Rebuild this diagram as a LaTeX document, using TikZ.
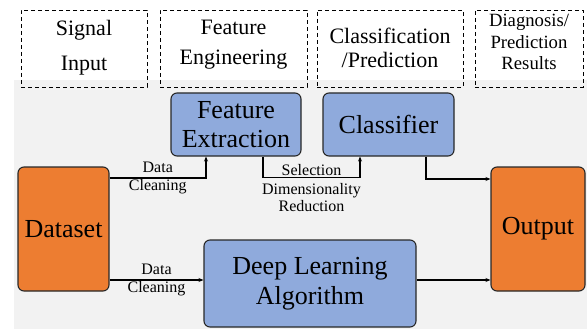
\documentclass[tikz,border=0pt]{standalone}
\usepackage{fontspec}
\setmainfont{Liberation Serif}
\usepackage{tikz}
\usetikzlibrary{positioning, arrows.meta}
\definecolor{myblue}{RGB}{143, 170, 220}
\definecolor{myorange}{RGB}{237, 125, 49}
\definecolor{mygray}{RGB}{242, 242, 242}
\definecolor{myborder}{RGB}{40, 40, 40}

\begin{document}
\begin{tikzpicture}[x=1pt, y=-1pt,
    % --- Stili per i riquadri e le frecce ---
    hdr/.style={draw=black, line width=0.9pt, dash pattern=on 4pt off 3pt, minimum width=126pt, minimum height=77pt, inner sep=0},
    hdr_text/.style={align=center, inner sep=0, font=\fontsize{22}{35}\selectfont},
    box/.style={draw=myborder, line width=1.1pt, rounded corners=6pt, align=center, inner sep=0, font=\fontsize{26}{29}\selectfont},
    blue_box/.style={box, fill=myblue},
    orange_box/.style={box, fill=myorange},
    flow/.style={line width=1.1pt, -{Stealth[length=5pt, width=4pt]}},
    lbl/.style={align=center, inner sep=1pt, font=\fontsize{16}{17.5}\selectfont}
]
\useasboundingbox (0,0) rectangle (587,329);

% 1. Sfondo grigio
\fill[mygray] (14,80) rectangle (587,329);

% 2. Riquadri tratteggiati delle fasi
\node (sig_box) [hdr] at (84,48.5) {};
\node (feat_box) [hdr, minimum width=147pt] at (233.5,48.5) {};
\node (cls_box) [hdr, minimum width=146pt] at (390,48.5) {};
\node (res_box) [hdr, minimum width=108pt] at (529,48.5) {};

% 3. Titoli delle fasi
\node (sig) [hdr_text] at ([yshift=1pt]sig_box.center) {Signal\\Input};
\node (feat) [hdr_text, font=\fontsize{22}{30}\selectfont] at ([yshift=3.5pt]feat_box.center) {Feature\\Engineering};
\node (cls) [hdr_text, font=\fontsize{22}{24}\selectfont] at ([yshift=0.5pt]cls_box.center) {Classification\\/Prediction};
\node (res) [hdr_text, font=\fontsize{18.7}{21.5}\selectfont] at ([yshift=6.5pt]res_box.center) {Diagnosis/\\Prediction\\Results};

% 4. Blocchi principali
\node (fe) [blue_box, minimum width=130pt, minimum height=63pt] at (236,124.5) {Feature\\Extraction};
\node (clf) [blue_box, minimum width=131pt, minimum height=63pt] at (388.5,124.5) {Classifier};
\node (data) [orange_box, minimum width=91pt, minimum height=124pt] at (63.5,229) {Dataset};
\node (out) [orange_box, minimum width=94pt, minimum height=124pt] at (538,229) {Output};
\node (dl) [blue_box, minimum width=212pt, minimum height=87pt, font=\fontsize{26}{30}\selectfont] at (310,283.5) {Deep Learning\\Algorithm};

% 5. Frecce del ramo superiore
\draw[flow] ([yshift=51pt]data.east) -| node[lbl, pos=0.25] {Data\\Cleaning} ([xshift=-30pt]fe.south);
\draw[flow] ([xshift=27pt]fe.south) -- ++(0,21) -| node[lbl, pos=0.25, above] {Selection} node[lbl, pos=0.25, below=4pt] {Dimensionality\\Reduction} ([xshift=-28.5pt]clf.south);
\draw[flow] ([xshift=37.5pt]clf.south) |- ([yshift=50pt]out.west);

% 6. Frecce del ramo inferiore
\coordinate (low) at ([yshift=-51pt]data.east);
\draw[flow] (low) -- node[lbl] {Data\\Cleaning} (low -| dl.west);
\draw[flow] (dl.east |- low) -- (low -| out.west);
\end{tikzpicture}
\end{document}
